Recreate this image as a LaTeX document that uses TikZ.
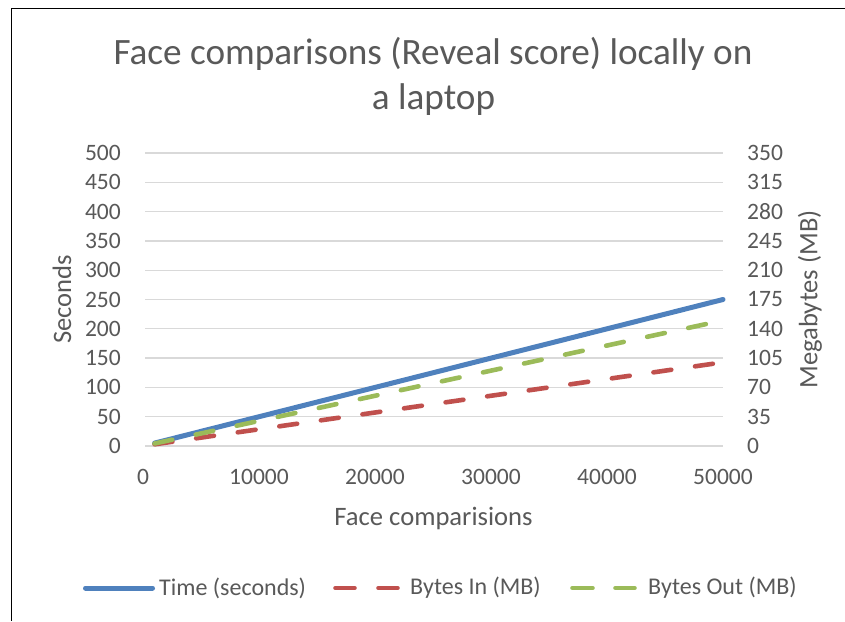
\documentclass[tikz,border=0pt]{standalone}
\usepackage{fontspec}
\setmainfont{Carlito}
\definecolor{txt}{HTML}{595959}
\definecolor{gridc}{HTML}{D9D9D9}
\definecolor{serA}{HTML}{4F81BD}
\definecolor{serB}{HTML}{C0504D}
\definecolor{serC}{HTML}{9BBB59}
\begin{document}
\begin{tikzpicture}[x=1pt,y=-1pt,
  ticklabel/.style={font=\fontsize{23.5}{28}\selectfont, text=txt, inner sep=0pt},
  axtitle/.style={font=\fontsize{26.6}{31}\selectfont, text=txt, inner sep=0pt},
  charttitle/.style={font=\fontsize{37.2}{44}\selectfont, text=txt, inner sep=0pt},
  legtext/.style={font=\fontsize{24}{28}\selectfont, text=txt, inner sep=0pt, anchor=west},
  gridline/.style={draw=gridc, line width=1.3pt},
  solidser/.style={line width=5pt, line cap=round},
  dashser/.style={line width=4.6pt, line cap=round, dash pattern=on 18pt off 24pt}]
\useasboundingbox (0,0) rectangle (845,621);
\fill[white] (0,0) rectangle (845,621);

% chart frame (top and left edges)
\coordinate (frameTR) at (845,8.5);
\coordinate (frameTL) at (11.5,8.5);
\coordinate (frameBL) at (11.5,621);
\draw[line width=1.8pt] (frameTR) -- (frameTL) -- (frameBL);

% title
\node[charttitle, anchor=base] (title1) at (433,64) {Face comparisons (Reveal score) locally on};
\node[charttitle, anchor=base] (title2) at (433.5,109) {a laptop};

% horizontal gridlines and both value axes
\foreach \i/\l/\r in {0/0/0,1/50/35,2/100/70,3/150/105,4/200/140,5/250/175,6/300/210,7/350/245,8/400/280,9/450/315,10/500/350}{
  \coordinate (gl\i) at (145,446-29.3*\i);
  \coordinate (gr\i) at (723,446-29.3*\i);
  \draw[gridline] (gl\i) -- (gr\i);
  \node[ticklabel, anchor=east] (yl\i) at (121,446-29.3*\i) {\l};
  \node[ticklabel, anchor=west] (yr\i) at (747,446-29.3*\i) {\r};
}

% category axis labels
\foreach \k/\v in {0/0,1/10000,2/20000,3/30000,4/40000,5/50000}{
  \node[ticklabel, anchor=base] (xl\k) at (143+116*\k,484) {\v};
}

% axis titles
\node[axtitle, anchor=base] (xtitle) at (433.5,525) {Face comparisions};
\node[axtitle, rotate=90] (ytitle) at (62,299.5) {Seconds};
\node[axtitle, rotate=90] (y2title) at (810,299.5) {Megabytes (MB)};

% series
\coordinate (tA) at (154.6,443.1);
\coordinate (tB) at (723,299.5);
\coordinate (iA) at (154.6,444.3);
\coordinate (iB) at (723,362.3);
\coordinate (oA) at (154.6,443.5);
\coordinate (oB) at (723,320.4);
\draw[solidser, serA] (tA) -- (tB);
\draw[dashser, serB] (iA) -- (iB);
\draw[dashser, serC] (oA) -- (oB);

% legend
\coordinate (lgA1) at (85.5,588);
\coordinate (lgA2) at (152.5,588);
\draw[solidser, serA] (lgA1) -- (lgA2);
\node[legtext] (lgAt) at (159,588) {Time (seconds)};
\coordinate (lgB1) at (335.5,588);
\coordinate (lgB2) at (354.5,588);
\coordinate (lgB3) at (378.5,588);
\coordinate (lgB4) at (397.5,588);
\draw[solidser, line width=4.6pt, serB] (lgB1) -- (lgB2) (lgB3) -- (lgB4);
\node[legtext] (lgBt) at (410,588) {Bytes In (MB)};
\coordinate (lgC1) at (572.5,588);
\coordinate (lgC2) at (592.5,588);
\coordinate (lgC3) at (615.5,588);
\coordinate (lgC4) at (634.5,588);
\draw[solidser, line width=4.6pt, serC] (lgC1) -- (lgC2) (lgC3) -- (lgC4);
\node[legtext] (lgCt) at (648,588) {Bytes Out (MB)};
\end{tikzpicture}
\end{document}
